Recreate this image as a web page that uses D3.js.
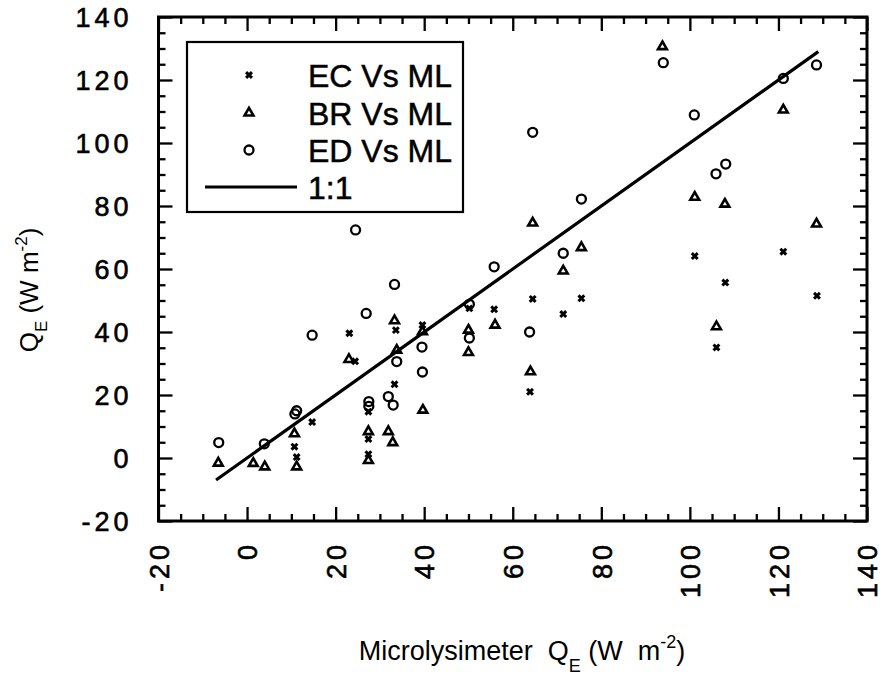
<!DOCTYPE html>
<html>
<head>
<meta charset="utf-8">
<script src="https://cdn.jsdelivr.net/npm/d3@7"></script>
<style>
  html, body { margin: 0; padding: 0; background: #fff; }
  svg { display: block; }
  text { fill: #000; }
</style>
</head>
<body>
<svg id="chart" width="889" height="676"></svg>
<script>
// Microlysimeter latent heat flux vs. other methods (W m-2)
const ecML = [10.7, 11.2, 14.7, 23.1, 24.4, 27.4, 27.4, 27.4, 33.3, 33.6, 39.6, 50.2, 55.8, 63.9, 64.5, 71.4, 75.5, 101.1, 106.0, 108.0, 121.1, 128.7];
const ecQE = [3.6, 0.3, 11.4, 39.6, 30.7, 14.7, 6.0, 1.2, 23.4, 40.6, 42.2, 47.5, 47.2, 21.0, 50.5, 45.7, 50.7, 64.1, 35.1, 55.7, 65.5, 51.5];

const brML = [-6.5, 1.4, 4.0, 10.7, 11.2, 23.0, 27.4, 27.4, 31.9, 32.9, 33.3, 33.8, 39.6, 39.7, 50.0, 50.0, 56.0, 64.0, 64.5, 71.4, 75.5, 93.8, 101.1, 106.0, 107.9, 121.1, 128.6];
const brQE = [-1.6, -1.7, -2.8, 7.7, -2.8, 31.3, 8.4, -0.8, 8.4, 4.9, 43.6, 34.2, 40.1, 15.2, 40.6, 33.5, 42.2, 27.4, 74.6, 59.4, 66.8, 130.6, 82.8, 41.7, 80.6, 110.5, 74.3];

const edML = [-6.4, 3.9, 10.8, 11.2, 14.7, 24.5, 26.9, 27.5, 27.5, 31.9, 33.0, 33.3, 33.8, 39.5, 39.6, 50.2, 50.2, 55.8, 63.8, 64.5, 71.4, 75.5, 94.0, 101.0, 105.9, 108.1, 121.1, 128.6];
const edQE = [4.9, 4.5, 14.0, 15.0, 39.0, 72.4, 45.9, 17.9, 16.4, 19.5, 16.8, 55.1, 30.6, 35.2, 27.3, 48.8, 38.1, 60.7, 40.0, 103.4, 65.0, 82.2, 125.5, 108.9, 90.2, 93.3, 120.5, 124.8];

// 1:1 reference line end points
const oneToOne = [-7, 129];

const axisDomain = [-20, 140];
const majorTicks = [-20, 0, 20, 40, 60, 80, 100, 120, 140];
const minorTicks = d3.range(-20, 141, 5).filter(v => v % 20 !== 0);

const legendLabels = ["EC Vs ML", "BR Vs ML", "ED Vs ML", "1:1"];

const svg = d3.select("#chart");
const plot = { left: 158.5, right: 867, top: 17, bottom: 521 };

const x = d3.scaleLinear().domain(axisDomain).range([plot.left, plot.right]);
const y = d3.scaleLinear().domain(axisDomain).range([plot.bottom, plot.top]);

const FONT = "'Liberation Sans', Arial, Helvetica, sans-serif";
const MAJ = 14, MIN = 7;
const plainNum = d => String(d);   // hyphen-minus, as printed

// inward ticks on all four sides
function tickAxis(axisFn, scale, values, size, transform) {
  const g = svg.append("g").attr("transform", transform)
    .call(axisFn(scale).tickValues(values).tickSize(size).tickFormat(""));
  g.select(".domain").remove();
  g.selectAll(".tick line").attr("stroke", "#000").attr("stroke-width", 2.3);
  return g;
}
tickAxis(d3.axisBottom, x, majorTicks, -MAJ, `translate(0,${plot.bottom})`);
tickAxis(d3.axisBottom, x, minorTicks, -MIN, `translate(0,${plot.bottom})`);
tickAxis(d3.axisTop, x, majorTicks, -MAJ, `translate(0,${plot.top})`);
tickAxis(d3.axisTop, x, minorTicks, -MIN, `translate(0,${plot.top})`);
tickAxis(d3.axisLeft, y, majorTicks, -MAJ, `translate(${plot.left},0)`);
tickAxis(d3.axisLeft, y, minorTicks, -MIN, `translate(${plot.left},0)`);
tickAxis(d3.axisRight, y, majorTicks, -MAJ, `translate(${plot.right},0)`);
tickAxis(d3.axisRight, y, minorTicks, -MIN, `translate(${plot.right},0)`);

// frame
svg.append("rect")
  .attr("x", plot.left).attr("y", plot.top)
  .attr("width", plot.right - plot.left).attr("height", plot.bottom - plot.top)
  .attr("fill", "none").attr("stroke", "#000").attr("stroke-width", 3);

// y tick labels
const yLab = svg.append("g").attr("transform", `translate(${plot.left - 26},0)`)
  .call(d3.axisLeft(y).tickValues(majorTicks).tickSize(0).tickFormat(plainNum));
yLab.select(".domain").remove();
yLab.selectAll("text")
  .attr("font-family", FONT).attr("font-size", 27).attr("letter-spacing", 4)
  .attr("stroke", "#000").attr("stroke-width", 0.6)
  .attr("fill", "#000").attr("dy", "0.36em").attr("x", 0);

// x tick labels, rotated
const xLab = svg.append("g").attr("transform", `translate(0,${plot.bottom + 20})`)
  .call(d3.axisBottom(x).tickValues(majorTicks).tickSize(0).tickFormat(plainNum));
xLab.select(".domain").remove();
xLab.selectAll("text")
  .attr("font-family", FONT).attr("font-size", 27).attr("letter-spacing", 4)
  .attr("stroke", "#000").attr("stroke-width", 0.6)
  .attr("fill", "#000")
  .attr("y", 0).attr("dy", "0.36em").attr("x", 0)
  .attr("text-anchor", "end")
  .attr("transform", "rotate(-90)");

// 1:1 line
svg.append("line")
  .attr("x1", x(oneToOne[0])).attr("y1", y(oneToOne[0]))
  .attr("x2", x(oneToOne[1])).attr("y2", y(oneToOne[1]))
  .attr("stroke", "#000").attr("stroke-width", 3.2);

// markers
const timesPath = d3.symbol().type(d3.symbolTimes).size(24)();
const triPath = d3.symbol().type(d3.symbolTriangle2).size(56)();

function pts(xs, ys) { return xs.map((v, i) => [v, ys[i]]); }

svg.append("g").selectAll("path").data(pts(ecML, ecQE)).join("path")
  .attr("d", timesPath)
  .attr("transform", d => `translate(${x(d[0])},${y(d[1])})`)
  .attr("fill", "none").attr("stroke", "#000").attr("stroke-width", 3);

svg.append("g").selectAll("path").data(pts(brML, brQE)).join("path")
  .attr("d", triPath)
  .attr("transform", d => `translate(${x(d[0])},${y(d[1])})`)
  .attr("fill", "none").attr("stroke", "#000").attr("stroke-width", 2.6)
  .attr("stroke-linejoin", "miter");

svg.append("g").selectAll("circle").data(pts(edML, edQE)).join("circle")
  .attr("cx", d => x(d[0])).attr("cy", d => y(d[1])).attr("r", 4.5)
  .attr("fill", "none").attr("stroke", "#000").attr("stroke-width", 2.3);

// legend
const leg = svg.append("g");
leg.append("rect").attr("x", 187).attr("y", 42).attr("width", 276).attr("height", 170)
  .attr("fill", "#fff").attr("stroke", "#000").attr("stroke-width", 2.2);
const rowY = [75, 113, 150, 187];
leg.append("path").attr("d", timesPath).attr("transform", `translate(249,${rowY[0]})`)
  .attr("fill", "none").attr("stroke", "#000").attr("stroke-width", 3);
leg.append("path").attr("d", triPath).attr("transform", `translate(249,${rowY[1]})`)
  .attr("fill", "none").attr("stroke", "#000").attr("stroke-width", 2.6);
leg.append("circle").attr("cx", 249).attr("cy", rowY[2]).attr("r", 4.5)
  .attr("fill", "none").attr("stroke", "#000").attr("stroke-width", 2.3);
leg.append("line").attr("x1", 205).attr("x2", 297).attr("y1", rowY[3]).attr("y2", rowY[3])
  .attr("stroke", "#000").attr("stroke-width", 3.2);
leg.selectAll("text.lbl").data(legendLabels).join("text").attr("class", "lbl")
  .attr("x", 308).attr("y", (d, i) => rowY[i]).attr("dy", "0.36em")
  .attr("font-family", FONT).attr("font-size", 32)
  .attr("stroke", "#000").attr("stroke-width", 0.5)
  .text(d => d);

// y axis title
const yt = svg.append("text")
  .attr("transform", "translate(38,290) rotate(-90)")
  .attr("text-anchor", "middle")
  .attr("font-family", FONT).attr("font-size", 26);
yt.append("tspan").text("Q");
yt.append("tspan").attr("font-size", 17).attr("dy", 9).text("E");
yt.append("tspan").attr("dy", -9).text(" (W m");
yt.append("tspan").attr("font-size", 17).attr("dy", -11).text("-2");
yt.append("tspan").attr("dy", 11).text(")");

// x axis title
const xt = svg.append("text")
  .attr("x", 522).attr("y", 660)
  .attr("text-anchor", "middle")
  .attr("font-family", FONT)
  .attr("font-size", 27)
  .attr("xml:space", "preserve");
xt.append("tspan").text("Microlysimeter  Q");
xt.append("tspan").attr("font-size", 18).attr("dy", 12).text("E");
xt.append("tspan").attr("dy", -12).text(" (W  m");
xt.append("tspan").attr("font-size", 18).attr("dy", -12).text("-2");
xt.append("tspan").attr("dy", 12).text(")");
</script>
</body>
</html>
